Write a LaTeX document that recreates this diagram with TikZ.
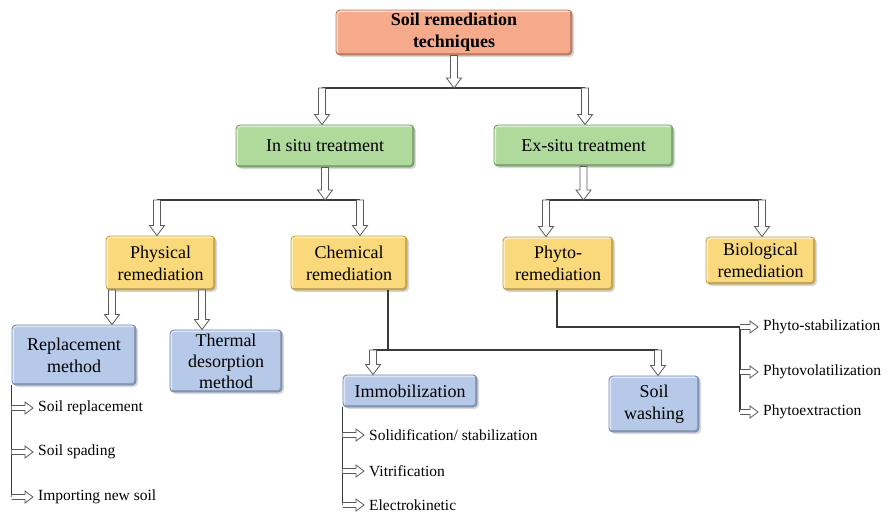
\documentclass[tikz,border=0pt]{standalone}
\usepackage{fontspec}
\setmainfont{Liberation Serif}
\usetikzlibrary{calc,shadows}

\definecolor{salmonF}{HTML}{F6AA8C}
\definecolor{salmonD}{HTML}{C07252}
\definecolor{greenF}{HTML}{AFDA9C}
\definecolor{greenD}{HTML}{6E9E5A}
\definecolor{yellowF}{HTML}{FAD87C}
\definecolor{yellowD}{HTML}{C9A042}
\definecolor{blueF}{HTML}{B6C9E8}
\definecolor{blueD}{HTML}{7189B4}
\definecolor{lineC}{HTML}{3A3A3A}
\definecolor{arrowC}{HTML}{5A5A5A}

% hollow block arrow pointing down: start point, tip
\newcommand\hdown[2]{%
  \draw[hollow] ($(#1)+(-3.5pt,0)$) -- ($(#2)+(-3.5pt,10pt)$) -- ($(#2)+(-7.5pt,10pt)$)
    -- (#2) -- ($(#2)+(7.5pt,10pt)$) -- ($(#2)+(3.5pt,10pt)$) -- ($(#1)+(3.5pt,0)$) -- cycle;}
% small hollow block arrow pointing right: start point, tip
\newcommand\hright[2]{%
  \draw[hollow] ($(#1)+(0,2.5pt)$) -- ($(#2)+(-8pt,2.5pt)$) -- ($(#2)+(-8pt,6pt)$)
    -- (#2) -- ($(#2)+(-8pt,-6pt)$) -- ($(#2)+(-8pt,-2.5pt)$) -- ($(#1)+(0,-2.5pt)$);}

\tikzset{
  box/.style={rounded corners=4pt, line width=0.9pt, inner sep=1.5pt, align=center,
    font=\fontsize{18}{22}\selectfont,
    drop shadow={shadow xshift=2pt, shadow yshift=-2pt, opacity=0.3},
    % bevelled edge: light on top/left, dark on bottom/right
    path picture={
      \draw[white, opacity=0.55, line width=4pt]
        (path picture bounding box.south west) -- (path picture bounding box.north west)
        -- (path picture bounding box.north east);
      \draw[black, opacity=0.22, line width=4pt]
        (path picture bounding box.north east) -- (path picture bounding box.south east)
        -- (path picture bounding box.south west);
    }},
  salmonbox/.style={box, fill=salmonF, draw=salmonD},
  greenbox/.style={box, fill=greenF, draw=greenD},
  yellowbox/.style={box, fill=yellowF, draw=yellowD},
  bluebox/.style={box, fill=blueF, draw=blueD},
  conn/.style={draw=lineC, line width=1.1pt},
  hollow/.style={draw=arrowC, fill=white, line width=0.8pt, line join=miter},
  item/.style={anchor=west, inner xsep=5pt, inner ysep=1pt, font=\fontsize{15.5}{18}\selectfont},
}

\begin{document}
\begin{tikzpicture}[x=1pt,y=-1pt]
\useasboundingbox (0,0) rectangle (890,514);

% ---- boxes ----
\node[salmonbox, minimum width=236pt, minimum height=45pt, font=\fontsize{18}{22}\selectfont\bfseries]
  (top) at (454,32.5) {Soil remediation\\techniques};
\node[greenbox, minimum width=178pt, minimum height=42pt] (ins) at (325,146) {In situ treatment};
\node[greenbox, minimum width=179pt, minimum height=41pt] (exs) at (583.5,145.5) {Ex-situ treatment};
\node[yellowbox, minimum width=109pt, minimum height=54pt] (phys) at (160.5,263) {Physical\\remediation};
\node[yellowbox, minimum width=116pt, minimum height=54pt] (chem) at (349,263) {Chemical\\remediation};
\node[yellowbox, minimum width=110pt, minimum height=53pt] (phyto) at (558,263.5) {Phyto-\\remediation};
\node[yellowbox, minimum width=109pt, minimum height=47pt] (bio) at (760.5,260.5) {Biological\\remediation};
\node[bluebox, minimum width=124pt, minimum height=60pt] (repl) at (74,355) {Replacement\\method};
\node[bluebox, minimum width=112pt, minimum height=62pt, font=\fontsize{18}{21}\selectfont]
  (therm) at (226,361) {Thermal\\desorption\\method};
\node[bluebox, minimum width=134pt, minimum height=32pt] (immo) at (410,391) {Immobilization};
\node[bluebox, minimum width=90pt, minimum height=56pt] (wash) at (654,404) {Soil\\washing};

% ---- list items ----
\node[item] (l1) at (33,408) {Soil replacement};
\node[item] (l2) at (33,452) {Soil spading};
\node[item] (l3) at (33,497) {Importing new soil};
\node[item] (l4) at (364,435) {Solidification/ stabilization};
\node[item] (l5) at (364,471) {Vitrification};
\node[item] (l6) at (364,505) {Electrokinetic};
\node[item] (l7) at (758,327) {Phyto-stabilization};
\node[item] (l8) at (758,372) {Phytovolatilization};
\node[item] (l9) at (758,412) {Phytoextraction};

% ---- junction points ----
\coordinate (t0) at (454,88);
\coordinate (tL) at (322,88);
\coordinate (tR) at (585,88);
\coordinate (i0) at (325,200);
\coordinate (iL) at (157,200);
\coordinate (iR) at (360,200);
\coordinate (e0) at (583.5,200);
\coordinate (eL) at (546,200);
\coordinate (eR) at (762,200);
\coordinate (pa1) at (112,290);
\coordinate (pa2) at (202,290);
\coordinate (c0) at (388,290);
\coordinate (c1) at (388,350);
\coordinate (cL) at (373,350);
\coordinate (cR) at (658,350);
\coordinate (f0) at (557,290);
\coordinate (f1) at (557,327);
\coordinate (f2) at (740,327);
\coordinate (r1) at (repl.south west |- l1.west);
\coordinate (r2) at (repl.south west |- l2.west);
\coordinate (r3) at (repl.south west |- l3.west);
\coordinate (m1) at (immo.south west |- l4.west);
\coordinate (m2) at (immo.south west |- l5.west);
\coordinate (m3) at (immo.south west |- l6.west);
\coordinate (p1) at (f2 |- l7.west);
\coordinate (p2) at (f2 |- l8.west);
\coordinate (p3) at (f2 |- l9.west);

% ---- plain connector lines ----
\draw[conn] (tL) -- (tR);
\draw[conn] (iL) -- (iR);
\draw[conn] (eL) -- (eR);
\draw[conn] (c0) -- (c1);
\draw[conn] (cL) -- (cR);
\draw[conn] (f0) -- (f1) -- (f2);
\draw[conn] (f2) -- (p3);
\draw[conn] (repl.south west) -- (r3);
\draw[conn] (immo.south west) -- (m3);

% ---- hollow arrows ----
\hdown{top.south}{t0}
\hdown{tL}{tL |- ins.north}
\hdown{tR}{tR |- exs.north}
\hdown{ins.south}{i0}
\hdown{iL}{iL |- phys.north}
\hdown{iR}{iR |- chem.north}
\hdown{exs.south}{e0}
\hdown{eL}{eL |- phyto.north}
\hdown{eR}{eR |- bio.north}
\hdown{pa1}{pa1 |- repl.north}
\hdown{pa2}{pa2 |- therm.north}
\hdown{cL}{cL |- immo.north}
\hdown{cR}{cR |- wash.north}

\hright{r1}{l1.west}
\hright{r2}{l2.west}
\hright{r3}{l3.west}
\hright{m1}{l4.west}
\hright{m2}{l5.west}
\hright{m3}{l6.west}
\hright{p1}{l7.west}
\hright{p2}{l8.west}
\hright{p3}{l9.west}
\end{tikzpicture}
\end{document}
